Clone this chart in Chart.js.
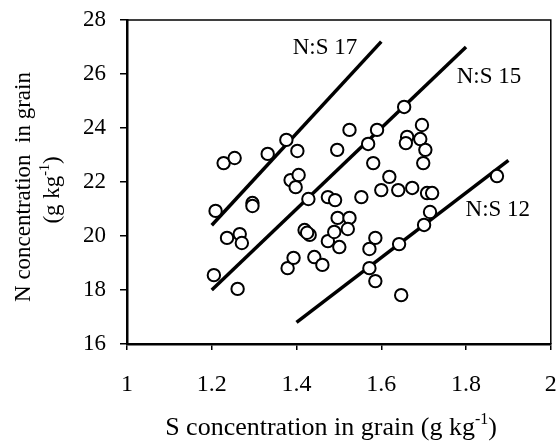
<!DOCTYPE html>
<html>
<head>
<meta charset="utf-8">
<script src="https://cdn.jsdelivr.net/npm/chart.js@4"></script>
<style>
    body { margin: 0; background: #fff; }
    #wrap { width: 559px; height: 445px; }
</style>
</head>
<body>
<div id="wrap"><canvas id="nsChart"></canvas></div>
<script>
// grain S (x) and N (y) concentrations, g/kg
const sValues = [1.228, 1.254, 1.332, 1.376, 1.402, 1.386, 1.405, 1.398, 1.209, 1.296,
    1.296, 1.428, 1.205, 1.236, 1.266, 1.271, 1.261, 1.379, 1.393, 1.419,
    1.431, 1.425, 1.442, 1.461, 1.474, 1.489, 1.497, 1.525, 1.521, 1.501,
    1.474, 1.491, 1.553, 1.496, 1.525, 1.569, 1.590, 1.581, 1.654, 1.619,
    1.600, 1.640, 1.673, 1.708, 1.720, 1.661, 1.658, 1.692, 1.696, 1.704,
    1.699, 1.715, 1.701, 1.642, 1.586, 1.572, 1.572, 1.586, 1.647, 1.873];
const nValues = [22.70, 22.89, 23.04, 23.56, 23.15, 22.07, 22.26, 21.81, 20.93, 21.22,
    21.11, 21.37, 18.55, 19.93, 20.07, 19.74, 18.04, 18.81, 19.19, 20.22,
    20.04, 20.12, 19.22, 18.93, 19.81, 20.15, 20.67, 20.67, 20.26, 19.59,
    21.44, 21.33, 21.44, 23.19, 23.93, 23.41, 23.93, 22.70, 24.78, 22.19,
    21.70, 21.70, 21.78, 21.59, 21.59, 23.67, 23.44, 23.59, 24.11, 23.19,
    22.70, 20.89, 20.41, 19.70, 19.93, 19.52, 18.81, 18.33, 17.81, 22.22];

// N:S ratio lines, start and end S values
const ratios = [17, 15, 12];
const ratioStart = [1.2, 1.2, 1.4];
const ratioEnd = [1.6, 1.8, 1.9];
const ratioLabels = ['N:S 17', 'N:S 15', 'N:S 12'];
const labelX = [1.467, 1.854, 1.875];
const labelY = [26.95, 25.9, 20.96];

const xTicks = [1, 1.2, 1.4, 1.6, 1.8, 2];
const yTicks = [16, 18, 20, 22, 24, 26, 28];

const serif = '"Liberation Serif", "Times New Roman", serif';

const points = sValues.map((s, i) => ({ x: s, y: nValues[i] }));

const lineSets = ratios.map((r, i) => ({
    type: 'line',
    label: ratioLabels[i],
    data: [
        { x: ratioStart[i], y: ratioStart[i] * r },
        { x: ratioEnd[i], y: ratioEnd[i] * r }
    ],
    borderColor: '#000',
    borderWidth: 3.5,
    pointRadius: 0,
    fill: false,
    order: 2
}));

// frame, line labels and axis titles (with superscript)
const extras = {
    id: 'extras',
    afterDraw(chart) {
        const ctx = chart.ctx;
        const a = chart.chartArea;
        const xs = chart.scales.x, ys = chart.scales.y;
        ctx.save();
        ctx.strokeStyle = '#000';
        ctx.lineWidth = 1.5;
        ctx.beginPath();
        ctx.moveTo(a.left, a.top);
        ctx.lineTo(a.right, a.top);
        ctx.lineTo(a.right, a.bottom);
        ctx.stroke();

        ctx.fillStyle = '#000';
        ctx.font = '23px ' + serif;
        ctx.textAlign = 'center';
        ctx.textBaseline = 'middle';
        ratioLabels.forEach((t, i) => {
            ctx.fillText(t, xs.getPixelForValue(labelX[i]), ys.getPixelForValue(labelY[i]));
        });

        // x title
        drawWithSup(ctx, 'S concentration in grain (g kg', '-1', ')', 331, 428, 26, 16);

        // y title, two lines
        ctx.save();
        ctx.translate(24, 187);
        ctx.rotate(-Math.PI / 2);
        ctx.font = '23px ' + serif;
        ctx.textAlign = 'center';
        ctx.textBaseline = 'middle';
        ctx.fillText('N concentration  in grain', 0, 0);
        ctx.restore();

        ctx.save();
        ctx.translate(53, 190);
        ctx.rotate(-Math.PI / 2);
        drawWithSup(ctx, '(g kg', '-1', ')', 0, 0, 23, 14);
        ctx.restore();
        ctx.restore();
    }
};

function drawWithSup(ctx, before, sup, after, cx, cy, bigSize, smallSize) {
    const big = bigSize + 'px ' + serif, small = smallSize + 'px ' + serif;
    ctx.textBaseline = 'middle';
    ctx.textAlign = 'left';
    ctx.font = big;
    const w1 = ctx.measureText(before).width, w3 = ctx.measureText(after).width;
    ctx.font = small;
    const w2 = ctx.measureText(sup).width;
    let x = cx - (w1 + w2 + w3) / 2;
    ctx.font = big;
    ctx.fillText(before, x, cy);
    x += w1;
    ctx.font = small;
    ctx.fillText(sup, x, cy - bigSize * 0.32);
    x += w2;
    ctx.font = big;
    ctx.fillText(after, x, cy);
}

new Chart(document.getElementById('nsChart'), {
    type: 'scatter',
    data: {
        datasets: [{
            label: 'Grain',
            data: points,
            pointStyle: 'circle',
            pointRadius: 6.2,
            pointBorderWidth: 2,
            pointBackgroundColor: '#fff',
            pointBorderColor: '#000',
            order: 1
        }].concat(lineSets)
    },
    options: {
        responsive: true,
        maintainAspectRatio: false,
        animation: false,
        layout: { padding: { top: 20, right: 7, left: 0, bottom: 0 } },
        plugins: {
            legend: { display: false },
            tooltip: { enabled: false }
        },
        scales: {
            x: {
                type: 'linear',
                min: 1,
                max: 2,
                afterBuildTicks: s => { s.ticks = xTicks.map(v => ({ value: v })); },
                afterFit: s => {
                    s.height = 101;
                    s.paddingLeft = 0;
                    s.paddingRight = 0;
                },
                ticks: {
                    color: '#000',
                    font: { family: serif, size: 24 },
                    padding: 20,
                    callback: v => String(+v.toFixed(1))
                },
                grid: { drawOnChartArea: false, drawTicks: true, tickLength: 6, color: '#000', lineWidth: 1.5 },
                border: { color: '#000', width: 2.5 }
            },
            y: {
                min: 16,
                max: 28,
                afterBuildTicks: s => { s.ticks = yTicks.map(v => ({ value: v })); },
                afterFit: s => {
                    s.width = 127;
                    s.paddingTop = 0;
                    s.paddingBottom = 0;
                },
                ticks: {
                    color: '#000',
                    font: { family: serif, size: 23 },
                    padding: 14
                },
                grid: { drawOnChartArea: false, drawTicks: true, tickLength: 7, color: '#000', lineWidth: 1.5 },
                border: { color: '#000', width: 2.5 }
            }
        }
    },
    plugins: [extras]
});
</script>
</body>
</html>
